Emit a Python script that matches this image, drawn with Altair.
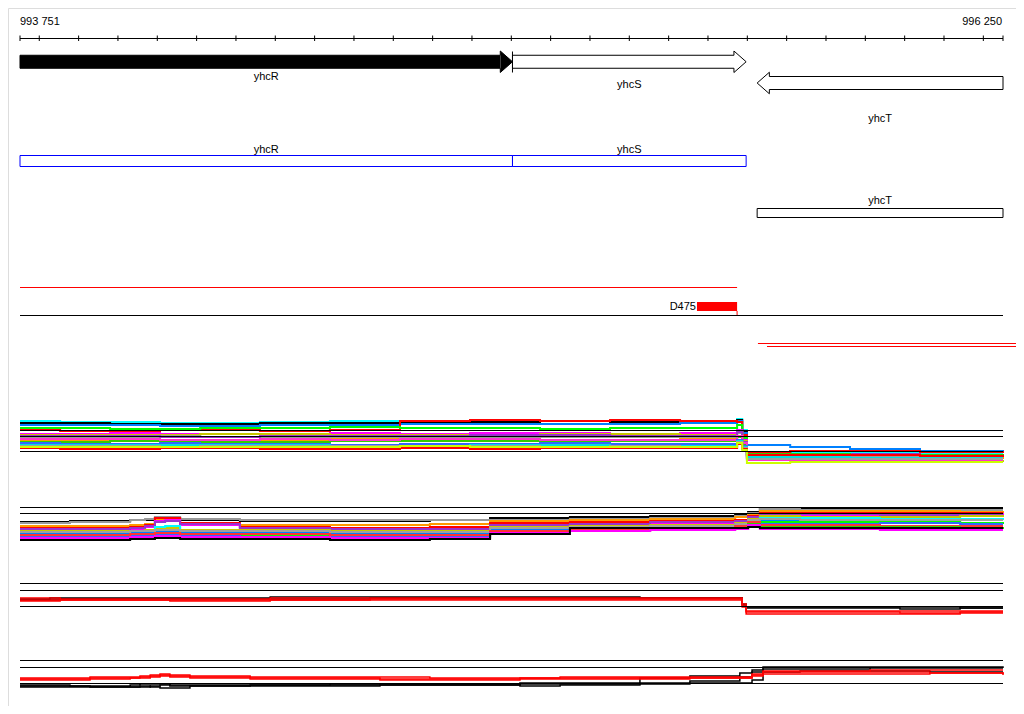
import altair as alt
import pandas as pd

# ---------------- data ----------------
START, END = 993751, 996250
scale_labels = ["993 751", "996 250"]
scale_ticks = [993751] + list(range(993800, 996201, 100)) + [996250]

gene_names = ["yhcR", "yhcS", "yhcT"]
gene_start = [993751, 995003, 995625]
gene_end = [995003, 995597, 996250]
gene_strand = ["+", "+", "-"]

feat_name = "D475"
feat_start, feat_end = 995472, 995574
red_seg_start = [995627, 995650]

# panel 1 (positions, then one list of signal levels per series)
p1_pos = [993751, 993853, 993980, 994107, 994209, 994361, 994539, 994717, 994895, 995073,
          995251, 995429, 995574, 995587, 995599, 995709, 995861, 996039, 996250]
p1_vals = [
    [49, 48, 48, 47, 47, 48, 49, 49, 48, 49, 49, 49, 51, 40, 18, 18, 17, 17, 17],
    [47, 47, 46, 46, 46, 47, 47, 48, 48, 49, 48, 48, 50, 38, 18, 19, 19, 19, 19],
    [45, 45, 45, 44, 44, 45, 45, 46, 46, 46, 46, 47, 49, 37, 25, 23, 21, 19, 18],
    [40, 39, 39, 40, 40, 39, 40, 49, 50, 49, 50, 49, 48, 35, 18, 19, 19, 18, 19],
    [42, 42, 41, 41, 42, 42, 43, 42, 42, 41, 42, 42, 45, 32, 15, 15, 14, 14, 15],
    [36, 36, 37, 36, 36, 36, 37, 36, 37, 37, 36, 37, 40, 30, 14, 13, 13, 13, 14],
    [35, 35, 35, 35, 36, 36, 35, 35, 35, 36, 36, 35, 39, 29, 12, 11, 10, 9, 10],
    [33, 33, 33, 34, 33, 33, 33, 32, 32, 33, 33, 33, 37, 28, 14, 15, 14, 14, 14],
    [34, 34, 34, 33, 33, 34, 34, 34, 35, 35, 34, 34, 38, 28, 16, 16, 16, 15, 15],
    [30, 30, 31, 30, 29, 30, 31, 30, 29, 29, 30, 31, 34, 27, 13, 13, 12, 12, 13],
    [28, 28, 29, 29, 28, 28, 29, 29, 29, 29, 29, 29, 33, 26, 16, 16, 15, 15, 16],
    [31, 31, 31, 30, 30, 31, 30, 31, 31, 30, 30, 30, 34, 27, 10, 10, 10, 9, 9],
    [27, 26, 26, 27, 26, 26, 25, 26, 26, 27, 26, 26, 30, 24, 12, 12, 12, 12, 12],
    [25, 25, 25, 25, 25, 25, 24, 24, 25, 25, 24, 24, 29, 23, 13, 13, 12, 12, 12],
    [24, 24, 24, 23, 24, 24, 24, 23, 24, 23, 24, 23, 28, 22, 11, 11, 11, 11, 11],
    [22, 21, 21, 22, 22, 21, 21, 22, 21, 22, 22, 22, 26, 21, 15, 15, 15, 14, 15],
    [23, 23, 23, 23, 23, 23, 23, 24, 23, 23, 23, 23, 27, 20, 7, 8, 8, 8, 8],
]
p1_colors = ["#00ffff", "#000000", "#0080ff", "#ff0000", "#00ff00", "#ff00ff", "#c8c800",
             "#999999", "#9933cc", "#ff9900", "#33cc00", "#ff33cc", "#3366ff", "#00e0e0",
             "#a0a0a0", "#ff0000", "#ccff00"]

# panel 2
p2_pos = [993751, 993878, 994031, 994069, 994094, 994120, 994158, 994310, 994539, 994793,
          994946, 995149, 995353, 995569, 995602, 995632, 995734, 995937, 996141, 996250]
p2_vals = [
    [23, 24, 25, 25, 27, 27, 25, 24, 24, 25, 27, 28, 29, 30, 33, 37, 37, 37, 37, 37],
    [22, 23, 25, 26, 28, 28, 26, 25, 25, 25, 25, 26, 27, 29, 32, 36, 35, 35, 35, 35],
    [19, 19, 20, 21, 25, 26, 21, 20, 20, 21, 24, 25, 26, 28, 31, 34, 34, 34, 33, 34],
    [17, 17, 18, 20, 27, 27, 22, 18, 17, 18, 22, 23, 24, 25, 29, 32, 32, 32, 32, 32],
    [15, 15, 16, 18, 24, 25, 20, 16, 15, 15, 19, 20, 21, 22, 27, 30, 30, 30, 31, 30],
    [16, 16, 17, 19, 23, 24, 21, 17, 16, 16, 20, 21, 23, 24, 28, 31, 31, 30, 30, 30],
    [14, 14, 14, 15, 17, 17, 15, 15, 14, 14, 18, 19, 20, 22, 26, 29, 28, 28, 29, 28],
    [11, 11, 12, 13, 18, 19, 14, 12, 11, 11, 15, 17, 18, 20, 24, 27, 27, 26, 26, 27],
    [12, 12, 13, 13, 14, 14, 13, 13, 12, 12, 16, 18, 19, 21, 25, 25, 25, 24, 25, 25],
    [9, 9, 10, 10, 11, 11, 10, 10, 9, 9, 14, 16, 17, 18, 23, 23, 23, 23, 22, 23],
    [8, 8, 9, 9, 10, 10, 9, 8, 8, 8, 13, 15, 16, 17, 22, 21, 21, 22, 21, 21],
    [13, 13, 14, 14, 15, 15, 14, 14, 13, 13, 17, 18, 19, 21, 25, 26, 25, 25, 25, 25],
    [10, 10, 11, 11, 12, 12, 11, 11, 10, 10, 14, 16, 17, 19, 23, 20, 20, 19, 19, 19],
    [6, 6, 7, 7, 8, 8, 7, 7, 6, 7, 11, 14, 15, 16, 21, 18, 18, 18, 17, 18],
    [7, 7, 8, 8, 9, 9, 8, 8, 7, 7, 12, 14, 15, 16, 20, 16, 16, 15, 15, 15],
    [5, 5, 6, 6, 7, 7, 6, 6, 5, 6, 11, 17, 17, 17, 18, 17, 17, 17, 17, 17],
]
p2_colors = ["#000000", "#999999", "#ff9900", "#ff0000", "#ff00ff", "#9933cc", "#c8c800",
             "#00ffff", "#0080ff", "#00ff00", "#3366ff", "#a0a0a0", "#ff3333", "#33cc00",
             "#ff00ff", "#000000"]

# panel 3 (black series listed first, red drawn over them)
p3_pos = [993751, 993827, 993853, 993967, 994005, 994132, 994298, 994387, 994641, 994971,
          995327, 995574, 995587, 995597, 995734, 995988, 996141, 996250]
p3_vals = [
    [21, 22, 22, 22, 22, 22, 22, 23, 23, 23, 22, 22, 16, 12, 12, 11, 12, 12],
    [20, 20, 21, 21, 21, 21, 21, 21, 22, 22, 22, 22, 15, 13, 13, 13, 12, 12],
    [22, 22, 21, 21, 21, 21, 21, 22, 22, 22, 22, 22, 16, 9, 9, 9, 9, 9],
    [20, 20, 20, 20, 20, 20, 20, 20, 21, 21, 21, 21, 14, 8, 8, 7, 8, 8],
    [19, 19, 20, 20, 20, 19, 19, 20, 20, 20, 20, 20, 13, 6, 6, 6, 7, 7],
]
p3_colors = ["#000000", "#000000", "#ff0000", "#ff0000", "#ff0000"]

# panel 4
p4_pos = [993751, 993878, 993929, 994031, 994056, 994082, 994107, 994132, 994183, 994336,
          994539, 994666, 994793, 995022, 995124, 995327, 995454, 995581, 995612, 995640,
          995734, 995912, 996064, 996250]
p4_vals = [
    [10, 9, 9, 10, 11, 11, 11, 10, 10, 10, 11, 11, 11, 12, 12, 17, 19, 22, 25, 28, 28, 28, 28, 27],
    [9, 9, 8, 8, 8, 9, 10, 9, 9, 9, 9, 10, 10, 11, 11, 12, 14, 18, 23, 26, 26, 27, 27, 27],
    [8, 8, 8, 8, 9, 8, 7, 7, 9, 10, 10, 10, 10, 9, 10, 11, 12, 12, 15, 23, 24, 24, 23, 23],
    [17, 17, 18, 18, 19, 20, 21, 20, 19, 18, 18, 18, 17, 17, 18, 18, 18, 18, 21, 24, 24, 25, 25, 25],
    [16, 16, 17, 17, 18, 19, 20, 19, 18, 17, 17, 16, 16, 17, 17, 17, 17, 17, 20, 23, 23, 23, 22, 21],
    [15, 15, 16, 17, 17, 18, 19, 18, 17, 16, 16, 15, 15, 16, 16, 16, 17, 17, 19, 21, 21, 21, 22, 20],
]
p4_colors = ["#000000", "#000000", "#000000", "#ff0000", "#ff0000", "#ff0000"]

# ---------------- layout ----------------
W, H = 1008, 698
OFF = 8  # page margin: image y = chart y + 8
FONT = "Liberation Sans"
xs = alt.Scale(domain=[START, END], range=[12, 995], zero=False, nice=False)


def X(f="pos"):
    return alt.X(f"{f}:Q", scale=xs, axis=None)


def py(img_y):
    return img_y - OFF


def hline(a, b, yimg, color="black"):
    return alt.Chart(pd.DataFrame({"a": [a], "b": [b]})).mark_rule(color=color, strokeWidth=1).encode(
        x=X("a"), x2="b:Q", y=alt.value(py(yimg)))


layers = []

# top scale
layers.append(hline(START, END, 38.5))
layers.append(alt.Chart(pd.DataFrame({"pos": scale_ticks})).mark_rule(color="black").encode(
    x=X(), y=alt.value(py(35.5)), y2=alt.value(py(41))))
layers.append(alt.Chart(pd.DataFrame({"pos": [START], "t": [scale_labels[0]]})).mark_text(
    align="left", baseline="alphabetic", font=FONT, fontSize=11, color="black").encode(
    x=X(), y=alt.value(py(25)), text="t:N"))
layers.append(alt.Chart(pd.DataFrame({"pos": [END], "t": [scale_labels[1]]})).mark_text(
    align="right", baseline="alphabetic", font=FONT, fontSize=11, color="black", dx=-1).encode(
    x=X(), y=alt.value(py(25)), text="t:N"))

# gene arrows: outline polygons built from the gene coordinates
HEAD_BP = 31
row_center = {"+": py(61.75), "-": py(83)}
BODY, HEAD = 6.5, 10.75
rows = []
for g, s, e, st in zip(gene_names, gene_start, gene_end, gene_strand):
    c = row_center[st]
    if st == "+":
        hb = e - HEAD_BP
        pts = [(s, c - BODY), (hb, c - BODY), (hb, c - HEAD), (e, c), (hb, c + HEAD),
               (hb, c + BODY), (s, c + BODY), (s, c - BODY)]
    else:
        hb = s + HEAD_BP
        pts = [(e, c - BODY), (hb, c - BODY), (hb, c - HEAD), (s, c), (hb, c + HEAD),
               (hb, c + BODY), (e, c + BODY), (e, c - BODY)]
    for i, (px, yy) in enumerate(pts):
        rows.append({"g": g, "i": i, "pos": px, "y": yy})
outline = pd.DataFrame(rows)

# filled body + head for the black yhcR arrow
c0 = row_center["+"]
layers.append(alt.Chart(pd.DataFrame({"a": [gene_start[0]], "b": [gene_end[0] - HEAD_BP]})).mark_rect(
    color="black").encode(x=X("a"), x2="b:Q", y=alt.value(c0 - BODY), y2=alt.value(c0 + BODY)))
layers.append(alt.Chart(pd.DataFrame({"pos": [gene_end[0] - HEAD_BP / 2]})).mark_point(
    shape="M-0.56,-1L0.56,0L-0.56,1Z", size=(2 * HEAD) ** 2, filled=True, color="black",
    opacity=1, strokeWidth=0).encode(x=X(), y=alt.value(c0)))
layers.append(alt.Chart(outline).mark_line(color="black", strokeWidth=1, interpolate="linear").encode(
    x=X(), y=alt.Y("y:Q", scale=None, axis=None), detail="g:N", order="i:Q"))
layers.append(alt.Chart(pd.DataFrame({"pos": [gene_start[1]]})).mark_rule(color="black").encode(
    x=X(), y=alt.value(py(51.5)), y2=alt.value(py(72.5))))

genes = pd.DataFrame({"g": gene_names, "s": gene_start, "e": gene_end})
genes["mid"] = (genes["s"] + genes["e"]) / 2
genes["y1"] = [py(80), py(88), py(122)]
genes["y2"] = [py(153), py(153), py(204)]
genes["bc"] = ["#0000ff", "#0000ff", "#000000"]
genes["bt"] = [py(155.5), py(155.5), py(208.5)]
genes["bb"] = [py(166.5), py(166.5), py(217.5)]

layers.append(alt.Chart(genes).mark_text(font=FONT, fontSize=11, baseline="alphabetic", color="black").encode(
    x=X("mid"), y=alt.Y("y1:Q", scale=None, axis=None), text="g:N"))
layers.append(alt.Chart(genes).mark_rect(fill="white", fillOpacity=0, strokeWidth=1).encode(
    x=X("s"), x2="e:Q", y=alt.Y("bt:Q", scale=None, axis=None), y2="bb:Q",
    stroke=alt.Stroke("bc:N", scale=None)))
layers.append(alt.Chart(genes).mark_text(font=FONT, fontSize=11, baseline="alphabetic", color="black").encode(
    x=X("mid"), y=alt.Y("y2:Q", scale=None, axis=None), text="g:N"))

# feature track
layers.append(hline(START, feat_end, 287.5, "red"))
layers.append(hline(START, END, 315.5))
layers.append(alt.Chart(pd.DataFrame({"a": [feat_start], "b": [feat_end]})).mark_rect(color="red").encode(
    x=X("a"), x2="b:Q", y=alt.value(py(302)), y2=alt.value(py(311))))
layers.append(alt.Chart(pd.DataFrame({"pos": [feat_end]})).mark_rule(color="red").encode(
    x=X(), y=alt.value(py(311)), y2=alt.value(py(315))))
layers.append(alt.Chart(pd.DataFrame({"pos": [feat_start], "t": [feat_name]})).mark_text(
    align="right", baseline="alphabetic", font=FONT, fontSize=11, color="black", dx=-1).encode(
    x=X(), y=alt.value(py(310)), text="t:N"))
for ystart, sp in zip([343.5, 346.5], red_seg_start):
    layers.append(alt.Chart(pd.DataFrame({"pos": [sp]})).mark_rule(color="red").encode(
        x=X(), x2=alt.value(W), y=alt.value(py(ystart))))


# expression panels
def panel(pos, vals, colors, dom, img_range, sw):
    rws = []
    for k, (vv, col) in enumerate(zip(vals, colors)):
        for p, v in zip(pos, vv):
            rws.append({"pos": p, "v": v, "s": f"{k:02d}", "c": col})
    df = pd.DataFrame(rws)
    return alt.Chart(df).mark_line(interpolate="step-after", strokeWidth=sw).encode(
        x=X(),
        y=alt.Y("v:Q", scale=alt.Scale(domain=dom, range=[py(img_range[0]), py(img_range[1])],
                                       zero=False, nice=False), axis=None),
        color=alt.Color("c:N", scale=None),
        detail="s:N",
        order="pos:Q",
    )


layers.append(panel(p1_pos, p1_vals, p1_colors, [0, 60], [470, 410], 2))
layers.append(panel(p2_pos, p2_vals, p2_colors, [0, 45], [545, 500], 2))
layers.append(panel(p3_pos, p3_vals, p3_colors, [0, 40], [620, 580], 1.5))
layers.append(panel(p4_pos, p4_vals, p4_colors, [0, 40], [695, 655], 1.5))

# panel reference lines
for yy in [430.5, 436.5, 451.5, 507.5, 513.5, 583.5, 590.5, 606.5, 660.5, 667.5, 683.5]:
    layers.append(hline(START, END, yy))

chart = alt.layer(*layers).resolve_scale(y="independent").properties(
    width=W, height=H, autosize="none", padding=0
).configure_view(stroke=None).configure(background="white")

chart.save("out.html", embed_options={"renderer": "svg", "actions": False})
